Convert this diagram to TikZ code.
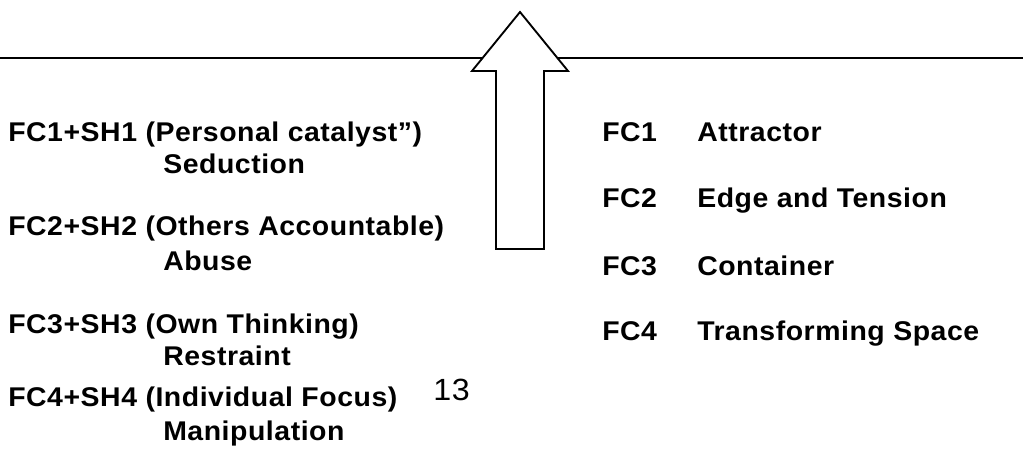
\documentclass[tikz,border=0pt]{standalone}
\usepackage{fontspec}
\setmainfont[FakeStretch=1.05,LetterSpace=2]{Liberation Sans}

\begin{document}
\begin{tikzpicture}[x=0.75pt,y=-0.75pt,
  lbl/.style={anchor=base west,inner sep=0pt,font=\fontsize{20.3}{24}\selectfont\bfseries},
  pagenum/.style={anchor=base west,inner sep=0pt,font=\fontsize{23}{28}\selectfont}]
\useasboundingbox (0,0) rectangle (1023,463);
% rule across the page and the big arrow over it
\coordinate (ruleL) at (0,58);
\coordinate (ruleR) at (1023,58);
\draw[line width=1.4pt] (ruleL)--(ruleR);
\draw[line width=1.4pt,fill=white] (520,12)--(568,71)--(544,71)--(544,249)
  --(496,249)--(496,71)--(472,71)--cycle;

% left column
\node[lbl] (sh1) at (8,142) {FC1+SH1 (Personal catalyst”)};
\node[lbl] (sed) at (163,174) {Seduction};
\node[lbl] (sh2) at (8,235) {FC2+SH2 (Others Accountable)};
\node[lbl] (abu) at (163,270) {Abuse};
\node[lbl] (sh3) at (8,333) {FC3+SH3 (Own Thinking)};
\node[lbl] (res) at (163,365) {Restraint};
\node[lbl] (sh4) at (8,406) {FC4+SH4 (Individual Focus)};
\node[lbl] (man) at (163,440) {Manipulation};

\node[pagenum] (num) at (433,400) {13};

% right column
\node[lbl] (fc1) at (602,142) {FC1};
\node[lbl] (att) at (697,142) {Attractor};
\node[lbl] (fc2) at (602,208) {FC2};
\node[lbl] (edg) at (697,208) {Edge and Tension};
\node[lbl] (fc3) at (602,275) {FC3};
\node[lbl] (con) at (697,275) {Container};
\node[lbl] (fc4) at (602,340) {FC4};
\node[lbl] (tra) at (697,340) {Transforming Space};
\end{tikzpicture}
\end{document}
